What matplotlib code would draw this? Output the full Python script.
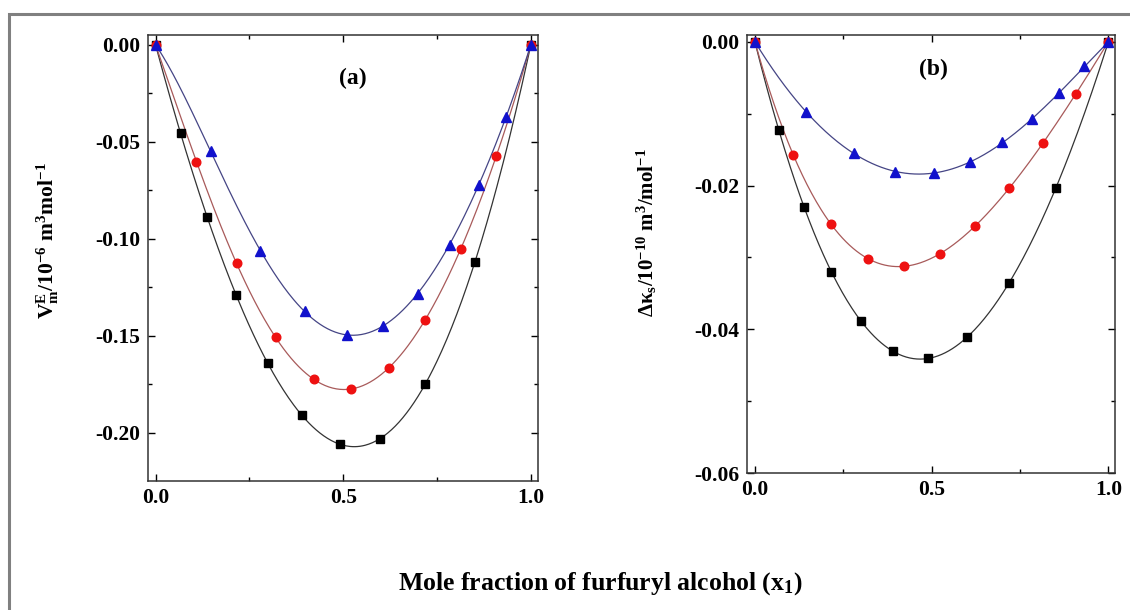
import matplotlib
matplotlib.use('Agg')
import matplotlib.pyplot as plt
import numpy as np
from matplotlib.ticker import MultipleLocator, FormatStrFormatter
from matplotlib.patches import Rectangle

plt.rcParams['font.family'] = ['Liberation Serif', 'DejaVu Serif']
plt.rcParams['font.weight'] = 'bold'
plt.rcParams['mathtext.fontset'] = 'custom'
plt.rcParams['mathtext.rm'] = 'Liberation Serif:bold'
plt.rcParams['mathtext.it'] = 'Liberation Serif:bold:italic'
plt.rcParams['mathtext.bf'] = 'Liberation Serif:bold'
plt.rcParams['axes.unicode_minus'] = False

# panel (a): excess molar volume
xa_sq = [0.0, 0.067, 0.137, 0.215, 0.299, 0.390, 0.491, 0.599, 0.718, 0.851, 1.0]
ya_sq = [0.0, -0.0454, -0.089, -0.129, -0.164, -0.191, -0.206, -0.203, -0.175, -0.112, 0.0]
xa_ci = [0.0, 0.109, 0.216, 0.320, 0.421, 0.522, 0.622, 0.717, 0.813, 0.908, 1.0]
ya_ci = [0.0, -0.0603, -0.1126, -0.1509, -0.1724, -0.1773, -0.1668, -0.142, -0.1053, -0.0575, 0.0]
xa_tr = [0.0, 0.147, 0.278, 0.399, 0.509, 0.607, 0.698, 0.784, 0.861, 0.934, 1.0]
ya_tr = [0.0, -0.0547, -0.1063, -0.1375, -0.1494, -0.1449, -0.1284, -0.1031, -0.0721, -0.0371, 0.0]

# panel (b): deviation in isentropic compressibility
xb_sq = [0.0, 0.068, 0.139, 0.216, 0.300, 0.391, 0.490, 0.599, 0.720, 0.851, 1.0]
yb_sq = [0.0, -0.01222, -0.0230, -0.0320, -0.0389, -0.0430, -0.0440, -0.0411, -0.0336, -0.0203, 0.0]
xb_ci = [0.0, 0.109, 0.216, 0.321, 0.422, 0.525, 0.622, 0.720, 0.814, 0.909, 1.0]
yb_ci = [0.0, -0.0158, -0.0254, -0.0302, -0.0312, -0.0295, -0.0256, -0.0204, -0.0141, -0.0072, 0.0]
xb_tr = [0.0, 0.144, 0.280, 0.396, 0.507, 0.609, 0.700, 0.784, 0.861, 0.932, 1.0]
yb_tr = [0.0, -0.0097, -0.0155, -0.0181, -0.0182, -0.0167, -0.0140, -0.0108, -0.0071, -0.0034, 0.0]


def rk_fit(x, y, n=4):
    # Redlich-Kister least squares fit through the points
    x = np.asarray(x)
    y = np.asarray(y)
    basis = np.column_stack([x * (1 - x) * (2 * x - 1) ** k for k in range(n)])
    coef = np.linalg.lstsq(basis, y, rcond=None)[0]
    xs = np.linspace(0, 1, 300)
    ys = sum(c * xs * (1 - xs) * (2 * xs - 1) ** k for k, c in enumerate(coef))
    return xs, ys


def style_axes(ax, ymajor, yminor, yfmt):
    ax.xaxis.set_major_locator(MultipleLocator(0.5))
    ax.xaxis.set_minor_locator(MultipleLocator(0.25))
    ax.xaxis.set_major_formatter(FormatStrFormatter('%.1f'))
    ax.yaxis.set_major_locator(MultipleLocator(ymajor))
    ax.yaxis.set_minor_locator(MultipleLocator(yminor))
    ax.yaxis.set_major_formatter(FormatStrFormatter(yfmt))
    ax.tick_params(which='both', direction='in', top=True, right=True, labelsize=15.5)
    ax.tick_params(axis='x', pad=5)
    ax.tick_params(axis='y', pad=6)
    ax.tick_params(which='major', length=5, width=1)
    ax.tick_params(which='minor', length=3, width=1)
    for s in ax.spines.values():
        s.set_linewidth(1.1)
        s.set_color('#333333')


def draw_series(ax, xsq, ysq, xci, yci, xtr, ytr):
    for x, y, lc in [(xsq, ysq, '#333333'), (xci, yci, '#a85a5a'), (xtr, ytr, '#454585')]:
        xs, ys = rk_fit(x, y)
        ax.plot(xs, ys, color=lc, lw=0.9, zorder=2)
    ax.plot(xsq, ysq, 's', color='black', ms=5.2, ls='none', zorder=3)
    ax.plot(xci, yci, 'o', color='#ee1111', ms=6.2, ls='none', zorder=3)
    ax.plot(xtr, ytr, '^', color='#1111cc', ms=7, ls='none', zorder=3)


fig = plt.figure(figsize=(11.3, 6.1), dpi=100)

ax1 = fig.add_axes([0.1313, 0.2120, 0.3448, 0.7301])
draw_series(ax1, xa_sq, ya_sq, xa_ci, ya_ci, xa_tr, ya_tr)
ax1.set_xlim(-0.019, 1.019)
ax1.set_ylim(-0.2247, 0.0048)
style_axes(ax1, 0.05, 0.025, '%.2f')
ax1.text(0.526, -0.0172, '(a)', fontsize=17, fontweight='bold', ha='center', va='center')
ax1.set_ylabel(r'$\mathrm{V_m^E/10^{-6}\ m^3mol^{-1}}$', fontsize=15.5)
ax1.yaxis.set_label_coords(-0.225, 0.54)

ax2 = fig.add_axes([0.6615, 0.2243, 0.3256, 0.7190])
draw_series(ax2, xb_sq, yb_sq, xb_ci, yb_ci, xb_tr, yb_tr)
ax2.set_xlim(-0.021, 1.020)
ax2.set_ylim(-0.06, 0.001)
style_axes(ax2, 0.02, 0.01, '%.2f')
ax2.text(0.504, -0.0039, '(b)', fontsize=17, fontweight='bold', ha='center', va='center')
ax2.set_ylabel(r'$\mathrm{\Delta\kappa_s/10^{-10}\ m^3/mol^{-1}}$', fontsize=15)
ax2.yaxis.set_label_coords(-0.241, 0.548)

fig.text(0.531, 0.043, r'Mole fraction of furfuryl alcohol (x$_\mathrm{1}$)', fontsize=18.5,
         fontweight='bold', ha='center', va='center')

fig.patches.append(Rectangle((9 / 1130, -0.02), 1.1, 1 - 14 / 610 + 0.02, transform=fig.transFigure,
                             fill=False, edgecolor='#808080', lw=2.2, zorder=0))

fig.savefig('out.png', dpi=100)
